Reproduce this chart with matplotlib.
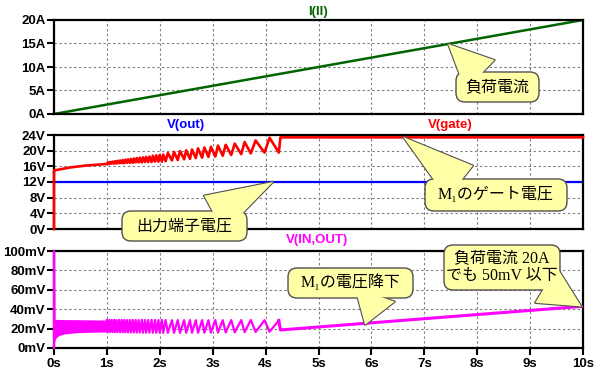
import matplotlib.pyplot as plt
from matplotlib.patches import FancyBboxPatch, FancyArrowPatch
from matplotlib.transforms import IdentityTransform

W, H = 598, 377

# ---- data ----
t_load = [0, 10]
i_load = [0, 20]                      # A

t_out = [0, 10]
v_out = [12, 12]                      # V

# gate: start-up part, then sawtooth teeth, then flat
gate_start_t = [0, 0, 0.02, 0.3, 0.6, 1.0]
gate_start_v = [0, 14.9, 15.0, 15.7, 16.2, 16.6]
tooth_t = [1.00, 1.045, 1.09, 1.135, 1.18, 1.23, 1.28, 1.33, 1.38, 1.435,
           1.49, 1.545, 1.60, 1.66, 1.72, 1.78, 1.845, 1.91, 1.975, 2.04,
           2.11, 2.23, 2.34, 2.46, 2.57, 2.68, 2.80, 2.92, 3.05, 3.19,
           3.35, 3.54, 3.72, 3.98]
tooth_end = 4.25
gate_lo = [16.6, 16.6, 16.7, 16.7, 16.7, 16.8, 16.8, 16.8, 16.9, 16.9,
           16.9, 17.0, 17.0, 17.0, 17.1, 17.1, 17.1, 17.2, 17.2, 17.2,
           17.3, 17.5, 17.6, 17.8, 17.9, 18.1, 18.2, 18.4, 18.5, 18.7,
           18.9, 19.1, 19.3, 19.5, 19.5]
gate_hi = [17.0, 17.1, 17.2, 17.3, 17.4, 17.5, 17.6, 17.7, 17.8, 17.9,
           18.0, 18.1, 18.2, 18.3, 18.4, 18.5, 18.7, 18.8, 18.9, 19.0,
           19.4, 19.7, 19.9, 20.1, 20.3, 20.6, 20.8, 21.0, 21.3, 21.5,
           21.8, 22.2, 22.6, 23.3]
gate_flat_t = [4.28, 10]
gate_flat_v = [23.4, 23.4]

# V(IN,OUT) in mV
drop_spike_t = [0, 0, 0.01]
drop_spike_v = [0, 100, 8]
band_t = [0.01, 0.05, 0.1, 0.2, 0.43, 0.7, 1.0]
band_lo = [8, 11, 13, 14.5, 15.8, 16.2, 16.5]
band_hi = [29.5, 29.5, 29.4, 29.3, 29.2, 29.0, 28.8]
drop_hi = [28.8, 28.9, 28.9, 29.0, 28.8, 29.0, 28.9, 29.0, 28.8, 28.9,
           29.0, 28.9, 28.8, 29.0, 28.9, 28.8, 29.0, 28.9, 28.8, 28.9,
           28.8, 28.7, 28.8, 28.7, 28.8, 28.7, 28.8, 28.7, 28.8, 28.7,
           28.8, 28.8, 28.9, 28.7, 28.4]
drop_lo = [16.5, 16.4, 16.4, 16.3, 16.3, 16.2, 16.2, 16.1, 16.1, 16.0,
           16.0, 15.9, 15.9, 15.8, 15.8, 15.8, 15.7, 15.7, 15.7, 15.6,
           15.6, 15.6, 15.6, 15.6, 15.7, 15.7, 15.8, 15.8, 15.9, 16.0,
           16.1, 16.3, 16.5, 16.8]
drop_tail_t = [4.28, 10]
drop_tail_v = [18.6, 43]

x_ticks = list(range(0, 11))
x_labels = [f"{v}s" for v in x_ticks]
i_ticks = [0, 5, 10, 15, 20]
v_ticks = [0, 4, 8, 12, 16, 20, 24]
mv_ticks = [0, 20, 40, 60, 80, 100]


def zigzag(starts, end, first, second, rise=0.35):
    # each tooth: value first[i] at start, fast edge to second[i], slow ramp to next start
    bounds = starts + [end]
    ts, vs = [], []
    for k in range(len(starts)):
        a, b = bounds[k], bounds[k + 1]
        ts += [a, a + rise * (b - a)]
        vs += [first[k], second[k]]
    ts.append(end)
    vs.append(first[-1])
    return ts, vs


plt.rcParams['font.family'] = ['Liberation Sans', 'DejaVu Sans']
fig = plt.figure(figsize=(W / 100, H / 100), dpi=100)


def add_panel(top, bottom):
    ax = fig.add_axes([54 / W, 1 - bottom / H, (583 - 54) / W, (bottom - top) / H])
    ax.set_xlim(0, 10)
    for s in ax.spines.values():
        s.set_linewidth(1.6)
    ax.set_xticks(x_ticks)
    ax.grid(True, color='#808080', linestyle=(0, (2.2, 2.2)), linewidth=0.8)
    ax.tick_params(axis='y', direction='out', length=5, width=1.5, pad=1,
                   labelsize=9.5)
    ax.tick_params(axis='x', direction='out', length=5, width=1.5, pad=2,
                   labelsize=9.5)
    return ax


ax1 = add_panel(20, 114)
ax2 = add_panel(135, 229)
ax3 = add_panel(251, 348)

for ax in (ax1, ax2):
    ax.tick_params(axis='x', length=0, labelbottom=False)

ax1.set_ylim(0, 20)
ax1.set_yticks(i_ticks)
ax1.set_yticklabels([f"{v}A" for v in i_ticks], fontweight='bold')
ax1.plot(t_load, i_load, color='#006400', lw=1.8)

ax2.set_ylim(0, 24)
ax2.set_yticks(v_ticks)
ax2.set_yticklabels([f"{v}V" for v in v_ticks], fontweight='bold')
ax2.plot(t_out, v_out, color='#0000ff', lw=1.6)
gt, gv = zigzag(tooth_t, tooth_end, gate_lo, gate_hi)
ax2.plot(gate_start_t + gt + gate_flat_t, gate_start_v + gv + gate_flat_v,
         color='#ff0000', lw=1.9, zorder=3, clip_on=False)

ax3.set_ylim(0, 100)
ax3.set_yticks(mv_ticks)
ax3.set_yticklabels([f"{v}mV" for v in mv_ticks], fontweight='bold')
ax3.set_xticklabels(x_labels, fontweight='bold')
ax3.fill_between(band_t, band_lo, band_hi, color='#ff00ff', lw=0, zorder=3)
dt, dv = zigzag(tooth_t, tooth_end, drop_hi, drop_lo)
ax3.plot(drop_spike_t, drop_spike_v, color='#ff00ff', lw=1.6, zorder=3, clip_on=False)
ax3.plot(dt, dv, color='#ff00ff', lw=1.6, zorder=3)
ax3.plot([dt[-1]] + drop_tail_t, [dv[-1]] + drop_tail_v, color='#ff00ff', lw=2.2, zorder=3)

# trace names
fig.text(318 / W, 1 - 12 / H, "I(Il)", color='#006400', fontsize=9.5,
         fontweight='bold', ha='center', va='center')
fig.text(186 / W, 1 - 125 / H, "V(out)", color='#0000ff', fontsize=9.5,
         fontweight='bold', ha='center', va='center')
fig.text(450 / W, 1 - 125 / H, "V(gate)", color='#ff0000', fontsize=9.5,
         fontweight='bold', ha='center', va='center')
fig.text(317 / W, 1 - 240 / H, "V(IN,OUT)", color='#ff00ff', fontsize=9.5,
         fontweight='bold', ha='center', va='center')

# callouts: box (x0, y0 from top, w, h), wedge base, target axes + point
callouts = [
    ("負荷電流", (456, 72, 83, 30), (480, 75), ax1, (7.45, 14.9)),
    ("出力端子電圧", (122, 211, 125, 30), (214, 214), ax2, (4.14, 12)),
    ("M\u2081のゲート電圧", (425, 179, 142, 32), (460, 182), ax2, (6.6, 23.5)),
    ("M\u2081の電圧降下", (288, 268, 125, 30), (375, 295), ax3, (5.88, 24.0)),
    ("負荷電流 20A\nでも 50mV 以下", (444, 245, 116, 45), (546, 285), ax3, (9.97, 42.8)),
]
ident = IdentityTransform()
for text, (bx, by, bw, bh), (wx, wy), ax, tip in callouts:
    tip_px = ax.transData.transform(tip)
    base = (wx, H - wy)
    for fc, ec, lw, z in (('#ffffa8', '#505050', 1.6, 5), ('#ffffa8', 'none', 0, 7)):
        fig.add_artist(FancyArrowPatch(base, tuple(tip_px),
                                       arrowstyle='wedge,tail_width=3.0,shrink_factor=0.5',
                                       mutation_scale=10, fc=fc, ec=ec, lw=lw,
                                       shrinkA=0, shrinkB=0, transform=ident, zorder=z))
    fig.add_artist(FancyBboxPatch((bx, H - by - bh), bw, bh,
                                  boxstyle='round,pad=0,rounding_size=9',
                                  fc='#ffffa8', ec='#505050', lw=1.0,
                                  transform=ident, zorder=6))
    fig.text((bx + bw / 2) / W, 1 - (by + bh / 2) / H, text, fontsize=11.5,
             family=['Liberation Serif', 'Noto Sans CJK JP'],
             ha='center', va='center', linespacing=1.15, zorder=8)

fig.savefig('out.png', dpi=100)
